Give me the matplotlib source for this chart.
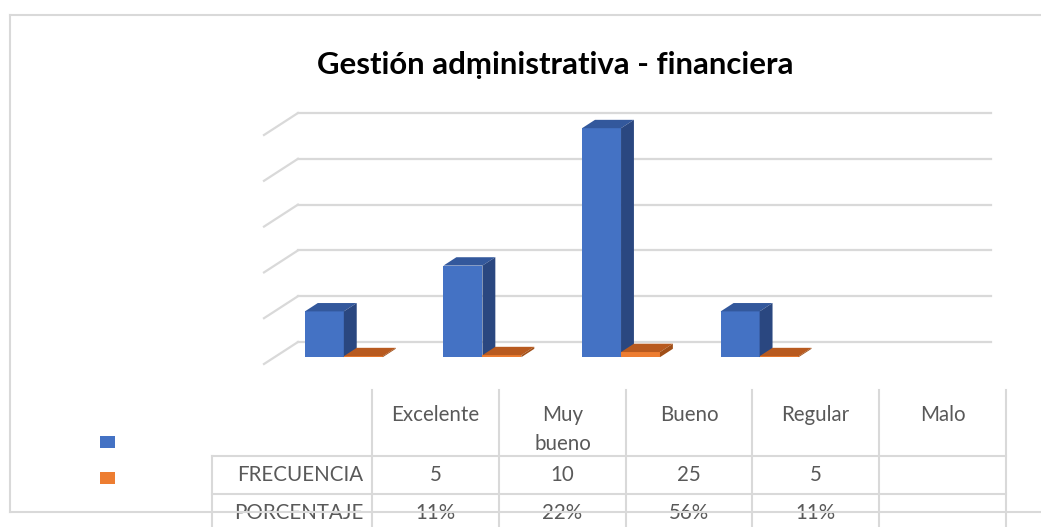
import matplotlib
matplotlib.use("Agg")
import matplotlib.pyplot as plt
from matplotlib.patches import Polygon, Rectangle

# data
categories = ["Excelente", "Muy\nbueno", "Bueno", "Regular", "Malo"]
frecuencia = [5, 10, 25, 5, None]
porcentaje = [0.11, 0.22, 0.56, 0.11, None]
series_names = ["FRECUENCIA", "PORCENTAJE"]
pct_labels = ["11%", "22%", "56%", "11%", ""]
title = "Gestión adṃinistrativa - financiera"
y_ticks = [0, 5, 10, 15, 20, 25]

W, H = 1041, 527
GRID = "#D9D9D9"
TXT = "#595959"
FONT = ["Lato", "DejaVu Sans"]
plt.rcParams["font.family"] = FONT

fig = plt.figure(figsize=(W / 100, H / 100), dpi=100)

# pixel overlay for the frame, title and data table
bg = fig.add_axes([0, 0, 1, 1])
bg.set_xlim(0, W); bg.set_ylim(H, 0); bg.axis("off")

# plot area (front plane), x in categories, y in values
ax = fig.add_axes([264 / W, (H - 364) / H, (957 - 264) / W, (364 - 135) / H])
ax.set_xlim(-0.5, 4.5); ax.set_ylim(0, 25); ax.axis("off")

DX, DY = 0.245, 2.4          # full floor depth (x in categories, y in values)
F0, F1 = 0.31, 0.69          # bar depth fraction
BW = 0.281                   # bar width

for v in y_ticks:
    ax.plot([-0.5 + DX, 4.5 + DX], [v + DY, v + DY], color=GRID, lw=1.6, clip_on=False, zorder=1)
    ax.plot([-0.5, -0.5 + DX], [v, v + DY], color=GRID, lw=1.6, clip_on=False, zorder=1)


def bar3d(x0, h, front, top, side):
    if h is None:
        return
    bx, by = F0 * DX, F0 * DY
    ddx, ddy = (F1 - F0) * DX, (F1 - F0) * DY
    ax.bar(x0 + bx, h, width=BW, bottom=by, align="edge", color=front, lw=0, zorder=3, clip_on=False)
    xl, xr, yt, yb = x0 + bx, x0 + bx + BW, by + h, by
    ax.add_patch(Polygon([(xl, yt), (xr, yt), (xr + ddx, yt + ddy), (xl + ddx, yt + ddy)],
                         closed=True, fc=top, ec="none", zorder=3, clip_on=False))
    ax.add_patch(Polygon([(xr, yb), (xr + ddx, yb + ddy), (xr + ddx, yt + ddy), (xr, yt)],
                         closed=True, fc=side, ec="none", zorder=3, clip_on=False))


for i in range(len(categories)):
    bar3d(i - BW, frecuencia[i], "#4472C4", "#33589C", "#2A4780")
    bar3d(i, porcentaje[i], "#ED7D31", "#B85A1F", "#A04F18")

# title
bg.text(555, 74, title, ha="center", va="baseline", fontsize=22.4, fontweight="bold",
        color="black", family=FONT)

# data table
col_edges = [372, 499, 626, 752, 879, 1006]
row_left = 212
for x in col_edges:
    bg.plot([x, x], [390, H + 5], color=GRID, lw=1.5)
bg.plot([row_left, row_left], [456, H + 5], color=GRID, lw=1.5)
for y in (456, 494):
    bg.plot([row_left, col_edges[-1]], [y, y], color=GRID, lw=1.5)

for i, cat in enumerate(categories):
    cx = (col_edges[i] + col_edges[i + 1]) / 2
    bg.text(cx, 405, cat, ha="center", va="top", fontsize=14.8, color=TXT, linespacing=1.55)
    if frecuencia[i] is not None:
        bg.text(cx, 475, str(frecuencia[i]), ha="center", va="center", fontsize=14.8, color=TXT)
    bg.text(cx, 513, pct_labels[i], ha="center", va="center", fontsize=14.8, color=TXT)

for name, y in zip(series_names, (475, 513)):
    bg.text(col_edges[0] - 9, y, name, ha="right", va="center", fontsize=14.8, color=TXT)

bg.add_patch(Rectangle((100, 436), 15, 12, fc="#4472C4", ec="none"))
bg.add_patch(Rectangle((100, 472), 15, 12, fc="#ED7D31", ec="none"))

# chart frame
bg.plot([10, W + 5], [15, 15], color=GRID, lw=1.5, zorder=10)
bg.plot([10, 10], [15, 512], color=GRID, lw=1.5, zorder=10)
bg.plot([10, W + 5], [512, 512], color=GRID, lw=1.5, zorder=10)

fig.savefig("out.png", dpi=100)
